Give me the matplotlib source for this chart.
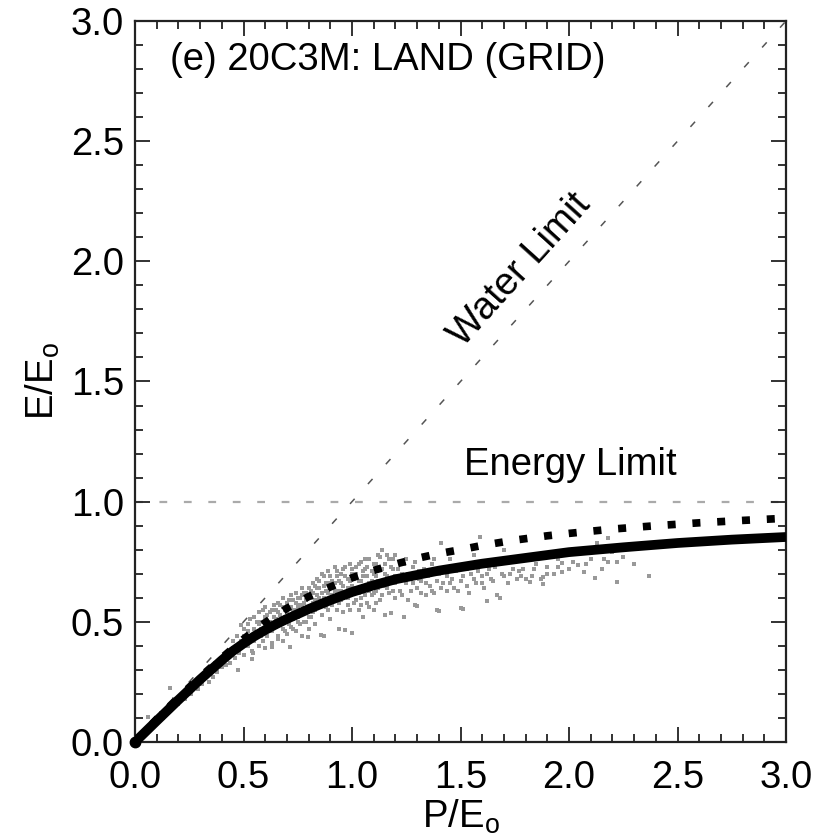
import matplotlib
matplotlib.use("Agg")
import matplotlib.pyplot as plt
from matplotlib.ticker import MultipleLocator, FormatStrFormatter

plt.rcParams['font.family'] = ['Liberation Sans', 'DejaVu Sans']
plt.rcParams['mathtext.fontset'] = 'custom'
plt.rcParams['mathtext.rm'] = 'Liberation Sans'
plt.rcParams['mathtext.it'] = 'Liberation Sans'

# ---- data ----
solid_x = [0, 0.1, 0.2, 0.3, 0.4, 0.45, 0.5, 0.55, 0.6, 0.65, 0.7, 0.8, 0.9, 1.0, 1.1, 1.2, 1.4, 1.6, 1.8, 2.0, 2.25, 2.5, 2.75, 3.0]
solid_y = [0, 0.088, 0.175, 0.26, 0.34, 0.378, 0.41, 0.44, 0.466, 0.49, 0.512, 0.553, 0.59, 0.624, 0.652, 0.677, 0.713, 0.742, 0.766, 0.79, 0.81, 0.828, 0.842, 0.853]

dotted_x = [0, 0.1, 0.2, 0.3, 0.4, 0.5, 0.6, 0.7, 0.8, 0.9, 1.0, 1.1, 1.2, 1.3, 1.4, 1.5, 1.6, 1.75, 1.9, 2.0, 2.2, 2.4, 2.6, 2.8, 3.0]
dotted_y = [0, 0.095, 0.185, 0.27, 0.35, 0.428, 0.497, 0.556, 0.605, 0.645, 0.683, 0.714, 0.74, 0.764, 0.784, 0.80, 0.818, 0.84, 0.858, 0.868, 0.886, 0.90, 0.912, 0.922, 0.931]

water_x = [0.0, 3.0]
water_y = [0.0, 3.0]
energy_x = [0.0, 3.0]
energy_y = [1.0, 1.0]

grid_pts = [
    (0.05,0.05),(0.06,0.105),(0.08,0.08),(0.1,0.1),(0.12,0.12),(0.13,0.1),(0.15,0.15),(0.16,0.225),(0.17,0.14),
    (0.18,0.18),(0.2,0.16),(0.22,0.2),(0.23,0.18),(0.25,0.23),(0.26,0.2),(0.28,0.25),(0.29,0.22),(0.3,0.27),
    (0.31,0.24),(0.33,0.29),(0.34,0.25),(0.35,0.3),(0.36,0.27),(0.37,0.33),(0.38,0.29),(0.39,0.34),(0.40,0.31),
    (0.41,0.36),(0.42,0.32),(0.43,0.37),(0.44,0.33),(0.45,0.39),(0.46,0.35),(0.47,0.4),(0.476,0.30),(0.48,0.37),
    (0.49,0.42),(0.49,0.487),(0.5,0.36),(0.5,0.44),(0.54,0.344),(0.545,0.372),(0.63,0.397),(0.66,0.43),
    (0.52,0.40),(0.52,0.46),(0.53,0.43),(0.54,0.38),(0.55,0.47),(0.55,0.42),(0.56,0.45),(0.57,0.40),(0.57,0.49),
    (0.58,0.44),(0.58,0.50),(0.59,0.42),(0.6,0.47),(0.6,0.52),(0.6,0.39),(0.61,0.44),(0.62,0.50),(0.62,0.54),
    (0.63,0.46),(0.63,0.41),(0.64,0.52),(0.65,0.48),(0.65,0.55),(0.66,0.44),(0.66,0.50),(0.67,0.53),(0.67,0.57),
    (0.68,0.47),(0.68,0.42),(0.69,0.55),(0.7,0.50),(0.7,0.58),(0.7,0.45),(0.71,0.53),(0.714,0.397),(0.72,0.56),
    (0.72,0.48),(0.73,0.59),(0.73,0.51),(0.74,0.46),(0.74,0.55),(0.75,0.60),(0.75,0.52),(0.76,0.49),(0.76,0.57),
    (0.77,0.44),(0.77,0.61),(0.78,0.54),(0.78,0.58),(0.79,0.50),(0.79,0.62),(0.796,0.438),(0.8,0.56),(0.8,0.47),(0.8,0.60),
    (0.81,0.52),(0.81,0.63),(0.82,0.58),(0.82,0.66),(0.83,0.55),(0.83,0.49),(0.84,0.61),(0.84,0.68),(0.85,0.57),
    (0.85,0.64),(0.857,0.445),(0.86,0.53),(0.86,0.70),(0.87,0.60),(0.87,0.44),(0.88,0.66),(0.88,0.56),(0.89,0.62),
    (0.89,0.71),(0.9,0.58),(0.9,0.51),(0.91,0.67),(0.91,0.64),(0.92,0.60),(0.92,0.73),(0.93,0.55),(0.93,0.69),
    (0.94,0.63),(0.94,0.47),(0.95,0.66),(0.95,0.59),(0.96,0.72),(0.96,0.54),(0.97,0.62),(0.97,0.465),(0.98,0.68),
    (0.98,0.57),(0.99,0.74),(0.99,0.61),(1.0,0.65),(1.0,0.455),(1.0,0.70),(1.01,0.58),(1.02,0.63),(1.02,0.73),
    (1.03,0.67),(1.03,0.55),(1.04,0.60),(1.04,0.75),(1.05,0.69),(1.05,0.52),(1.06,0.64),(1.06,0.72),(1.07,0.58),
    (1.08,0.66),(1.08,0.76),(1.09,0.61),(1.1,0.70),(1.1,0.55),(1.11,0.74),(1.11,0.63),(1.12,0.67),(1.12,0.78),
    (1.13,0.59),(1.14,0.72),(1.14,0.80),(1.15,0.65),(1.15,0.53),(1.16,0.69),(1.17,0.62),(1.17,0.76),(1.18,0.535),
    (1.18,0.66),(1.19,0.72),(1.2,0.60),(1.2,0.78),
    (1.22,0.63),(1.23,0.70),(1.24,0.52),(1.25,0.66),(1.25,0.76),(1.26,0.59),(1.27,0.68),(1.28,0.73),(1.29,0.571),
    (1.3,0.64),(1.3,0.565),(1.31,0.71),(1.32,0.67),(1.33,0.77),(1.34,0.61),(1.35,0.69),(1.36,0.65),(1.37,0.74),
    (1.38,0.62),(1.39,0.55),(1.4,0.543),(1.4,0.70),(1.41,0.827),(1.42,0.66),(1.43,0.73),(1.44,0.63),(1.45,0.76),
    (1.46,0.68),(1.47,0.64),(1.48,0.71),(1.5,0.556),(1.5,0.67),(1.51,0.553),(1.52,0.74),(1.53,0.65),(1.55,0.70),
    (1.56,0.78),(1.57,0.66),(1.59,0.855),(1.6,0.69),(1.61,0.64),(1.62,0.587),(1.63,0.72),(1.65,0.67),(1.67,0.61),
    (1.68,0.60),(1.69,0.70),(1.7,0.80),
    (1.72,0.66),(1.74,0.72),(1.76,0.68),(1.78,0.69),(1.79,0.72),(1.8,0.677),(1.82,0.665),(1.83,0.69),(1.85,0.74),
    (1.87,0.68),(1.88,0.685),(1.88,0.657),(1.9,0.73),(1.93,0.70),(1.95,0.76),(1.97,0.709),(1.97,0.744),(2.0,0.72),
    (2.04,0.737),(2.07,0.709),(2.1,0.76),(2.12,0.684),(2.13,0.827),(2.15,0.72),(2.18,0.748),(2.18,0.848),
    (2.22,0.748),(2.22,0.665),(2.25,0.77),(2.3,0.74),(2.37,0.69),
    (0.45,0.42),(0.47,0.44),(0.5,0.47),(0.52,0.49),(0.53,0.51),(0.55,0.52),(0.56,0.5),(0.57,0.54),(0.58,0.47),
    (0.59,0.55),(0.6,0.56),(0.61,0.53),(0.62,0.47),(0.63,0.55),(0.64,0.57),(0.64,0.49),(0.65,0.51),(0.66,0.58),
    (0.66,0.54),(0.67,0.49),(0.68,0.56),(0.68,0.60),(0.69,0.52),(0.69,0.46),(0.7,0.54),(0.71,0.59),(0.71,0.49),
    (0.72,0.61),(0.72,0.52),(0.73,0.55),(0.73,0.47),(0.74,0.58),(0.74,0.62),(0.75,0.50),(0.75,0.56),(0.76,0.60),
    (0.76,0.53),(0.77,0.57),(0.77,0.64),(0.78,0.50),(0.78,0.62),(0.79,0.55),(0.79,0.59),(0.8,0.64),(0.8,0.52),
    (0.81,0.60),(0.82,0.54),(0.82,0.62),(0.83,0.65),(0.83,0.59),(0.84,0.56),(0.84,0.64),(0.85,0.67),(0.85,0.60),
    (0.86,0.62),(0.86,0.57),(0.87,0.65),(0.87,0.69),(0.88,0.59),(0.88,0.63),(0.89,0.66),(0.89,0.55),(0.9,0.64),
    (0.9,0.69),(0.91,0.61),(0.91,0.57),(0.92,0.66),(0.92,0.63),(0.93,0.71),(0.93,0.61),(0.94,0.67),(0.94,0.58),
    (0.95,0.70),(0.95,0.63),(0.96,0.65),(0.96,0.60),(0.97,0.69),(0.97,0.73),(0.98,0.64),(0.98,0.60),(0.99,0.67),
    (0.99,0.55),(1.0,0.62),(1.0,0.72),(1.01,0.68),(1.01,0.64),(1.02,0.70),(1.02,0.59),(1.03,0.74),(1.03,0.62),
    (1.04,0.67),(1.04,0.57),(1.05,0.71),(1.05,0.65),(1.06,0.61),(1.06,0.76),(1.07,0.69),(1.07,0.73),(1.08,0.63),
    (1.08,0.56),(1.09,0.71),(1.09,0.67),(1.1,0.74),(1.1,0.62),(1.11,0.69),(1.11,0.58),(1.12,0.72),(1.12,0.64),
    (1.13,0.77),(1.13,0.66),(1.14,0.61),(1.15,0.74),(1.15,0.70),(1.16,0.64),(1.16,0.78),(1.17,0.68),(1.18,0.73),
    (1.19,0.63),(1.19,0.76),(1.2,0.69),(1.2,0.66),
    (1.21,0.72),(1.22,0.67),(1.23,0.61),(1.24,0.74),(1.26,0.70),(1.27,0.63),(1.28,0.66),(1.29,0.75),(1.31,0.68),
    (1.32,0.62),(1.33,0.72),(1.34,0.66),(1.36,0.70),(1.37,0.63),(1.38,0.76),(1.39,0.67),(1.41,0.64),(1.42,0.72),
    (1.44,0.69),(1.45,0.66),(1.47,0.72),(1.49,0.63),(1.51,0.69),(1.53,0.72),(1.54,0.62),(1.56,0.68),(1.58,0.71),
    (1.6,0.66),(1.62,0.70),(1.64,0.68),(1.66,0.73),(1.7,0.69),(1.73,0.70),(1.77,0.71),(1.84,0.72),(1.9,0.70),
    (1.95,0.73),(2.02,0.75),(2.08,0.74),(2.16,0.76),(2.2,0.79),
]
grid_x = [p[0] for p in grid_pts]
grid_y = [p[1] for p in grid_pts]

panel_title = "(e) 20C3M: LAND (GRID)"
tick_vals = [0.0, 0.5, 1.0, 1.5, 2.0, 2.5, 3.0]

# ---- figure ----
fig = plt.figure(figsize=(8.15, 8.38), dpi=100)
ax = fig.add_axes([135/815, 1-742/838, 651/815, 721/838])

FS = 27.5

ax.plot(water_x, water_y, color='#555555', lw=1.1, dashes=(4.5, 13), zorder=1)
ax.plot(energy_x, energy_y, color='#aaaaaa', lw=1.6, dashes=(3.5, 7.5), zorder=1)
ax.plot(grid_x, grid_y, linestyle='none', marker='s', markersize=2.7, color='#999999',
        markeredgewidth=0, zorder=2)
ax.plot(dotted_x, dotted_y, color='black', lw=5.5, dashes=(1.05, 2.2), dash_capstyle='butt', zorder=3)
ax.plot(solid_x, solid_y, color='black', lw=7, solid_capstyle='butt', solid_joinstyle='round', zorder=4)
ax.plot(solid_x[:1], solid_y[:1], linestyle='none', marker='o', markersize=7.5, color='black',
        zorder=5, clip_on=False)

ax.set_xlim(0, 3)
ax.set_ylim(0, 3)
ax.set_xticks(tick_vals)
ax.set_yticks(tick_vals)
ax.xaxis.set_minor_locator(MultipleLocator(0.1))
ax.yaxis.set_minor_locator(MultipleLocator(0.1))
ax.xaxis.set_major_formatter(FormatStrFormatter('%.1f'))
ax.yaxis.set_major_formatter(FormatStrFormatter('%.1f'))
ax.tick_params(which='both', direction='in', top=True, right=True, width=1.3, color='#222222')
ax.tick_params(which='major', length=10.8, labelsize=FS)
ax.tick_params(which='minor', length=6.0)
ax.tick_params(axis='x', which='major', pad=13)
ax.tick_params(axis='y', which='major', pad=8)
for s in ax.spines.values():
    s.set_linewidth(1.6)
    s.set_color('#222222')

ax.set_xlabel(r'P/E$_\mathrm{o}$', fontsize=FS, labelpad=1)
ax.set_ylabel(r'E/E$_\mathrm{o}$', fontsize=FS, labelpad=6)

ax.text((170-135)/217, (742-60)/240.3, panel_title, fontsize=FS, ha='left', va='center')
ax.text((570-135)/217, (742-465)/240.3, "Energy Limit", fontsize=FS, ha='center', va='center')
ax.text(1.774, 1.964, "Water Limit", fontsize=FS, ha='center', va='center', rotation=47.9,
        rotation_mode='anchor')

fig.savefig('out.png', dpi=100)
